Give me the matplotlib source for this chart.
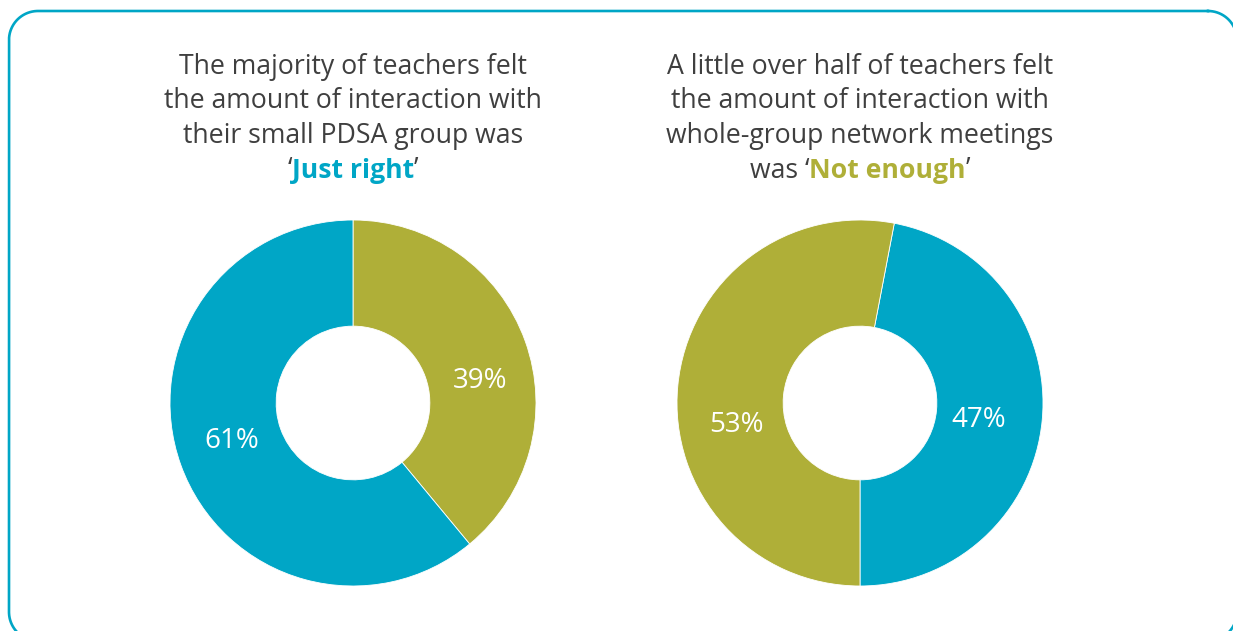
import numpy as np
import matplotlib
matplotlib.use("Agg")
import matplotlib.pyplot as plt

# ---- data ----
left_labels = ["Not enough", "Just right"]
left_values = [39, 61]
right_labels = ["Just right", "Not enough"]
right_values = [47, 53]
left_title = ["The majority of teachers felt",
              "the amount of interaction with",
              "their small PDSA group was"]
left_last = ["\u2018", "Just right", "\u2019"]
right_title = ["A little over half of teachers felt",
               "the amount of interaction with",
               "whole-group network meetings"]
right_last = ["was \u2018", "Not enough", "\u2019"]

TEAL = "#00A6C6"
OLIVE = "#AFAF38"
TXT = "#3f3f3f"
FONT = "Open Sans"

W, H = 1233, 631
fig = plt.figure(figsize=(W / 100, H / 100), dpi=100)
fig.patch.set_facecolor("white")

# full-figure axes in pixel units (y downwards) for the rounded border
bg = fig.add_axes([0, 0, 1, 1])
bg.set_xlim(0, W)
bg.set_ylim(H, 0)
bg.axis("off")

def rounded_rect(x0, y0, x1, y1, r, n=40):
    xs, ys = [], []
    corners = [(x1 - r, y0 + r, -90, 0),    # top-right
               (x1 - r, y1 - r, 0, 90),     # bottom-right
               (x0 + r, y1 - r, 90, 180),   # bottom-left
               (x0 + r, y0 + r, 180, 270)]  # top-left
    for cx, cy, a0, a1 in corners:
        t = np.radians(np.linspace(a0, a1, n))
        xs.extend(cx + r * np.cos(t))
        ys.extend(cy + r * np.sin(t))
    xs.append(xs[0]); ys.append(ys[0])
    return np.array(xs), np.array(ys)

bx, by = rounded_rect(9, 11, 1237, 641, 29)
bg.plot(bx, by, color=TEAL, lw=1.9, solid_joinstyle="round")

R_PX = 183
def donut(cx, cy, values, colors, start, counterclock, label_pos):
    ax = fig.add_axes([(cx - R_PX) / W, (H - cy - R_PX) / H, 2 * R_PX / W, 2 * R_PX / H])
    wedges, texts, autotexts = ax.pie(values, colors=colors, startangle=start,
                                      counterclock=counterclock, radius=1,
                                      wedgeprops=dict(width=0.58, edgecolor="white", linewidth=0.6),
                                      autopct=lambda p: f"{p:.0f}%", pctdistance=0.67,
                                      textprops=dict(color="white", fontsize=20, family=FONT))
    for t, (r, a) in zip(autotexts, label_pos):
        t.set_position((r * np.cos(np.radians(a)), r * np.sin(np.radians(a))))
        t.set_va("center_baseline")
        t.set_ha("center")
    ax.set_xlim(-1, 1)
    ax.set_ylim(-1, 1)
    ax.set_aspect("equal")
    ax.axis("off")
    return ax

donut(353, 403, left_values, [OLIVE, TEAL], 90, False, [(0.71, 11.3), (0.69, 195.9)])
donut(860, 403, right_values, [TEAL, OLIVE], 270, True, [(0.655, -6.5), (0.685, 188.5)])

FS = 19.2
baselines = [74, 108.5, 143, 177.5]

def title_block(cx, lines, last, hl_color):
    for ln, yb in zip(lines, baselines[:3]):
        fig.text(cx / W, 1 - yb / H, ln, ha="center", va="baseline",
                 fontsize=FS, color=TXT, family=FONT)
    r = fig.canvas.get_renderer()
    parts = []
    for i, s in enumerate(last):
        bold = (i == 1)
        t = fig.text(0, 1 - baselines[3] / H, s, ha="left", va="baseline",
                     fontsize=FS, family=FONT,
                     color=hl_color if bold else TXT,
                     fontweight="bold" if bold else "normal")
        parts.append(t)
    widths = [t.get_window_extent(r).width for t in parts]
    x = cx - sum(widths) / 2
    for t, w in zip(parts, widths):
        t.set_x(x / W)
        x += w

title_block(353, left_title, left_last, TEAL)
title_block(860, right_title, right_last, OLIVE)

fig.savefig("out.png", dpi=100)
